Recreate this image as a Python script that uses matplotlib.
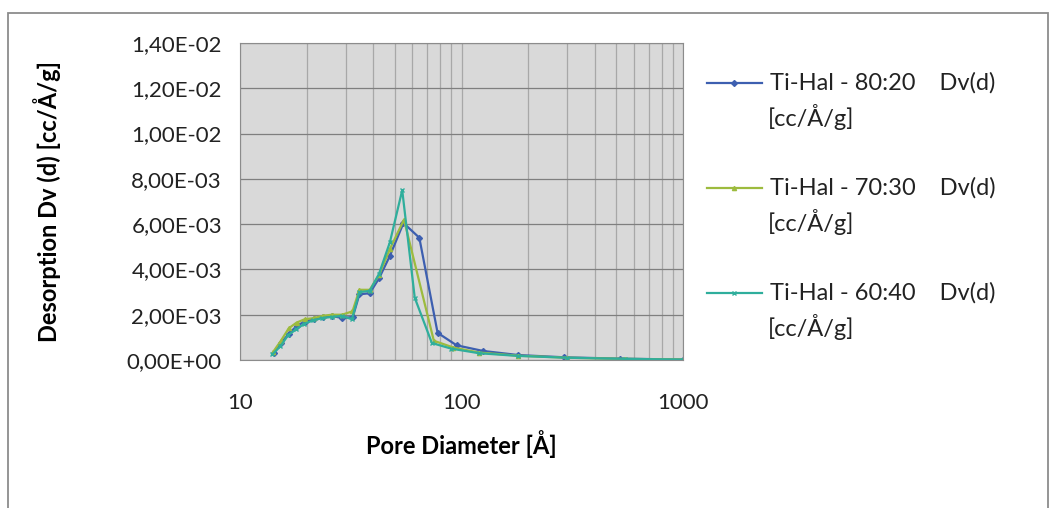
import matplotlib
matplotlib.use("Agg")
import matplotlib.pyplot as plt
from matplotlib.lines import Line2D
from matplotlib.patches import Rectangle
from matplotlib.ticker import FixedLocator, LogLocator, NullFormatter

plt.rcParams['font.family'] = ['Lato', 'DejaVu Sans']

# pore diameter [Å] and Dv(d) [cc/Å/g] for each sample
d_80_20 = [14.2, 15.3, 16.6, 18.0, 19.6, 21.5, 23.6, 26.0, 28.9, 32.3, 34.6, 38.5,
           42.4, 47.5, 54.7, 64.5, 78, 95, 125, 180, 290, 520, 1000]
dv_80_20 = [0.00030, 0.00075, 0.00115, 0.00150, 0.00170, 0.00180, 0.00190, 0.00195,
            0.00185, 0.00190, 0.00290, 0.00295, 0.00360, 0.00460, 0.00605, 0.00540,
            0.00120, 0.00065, 0.00040, 0.00022, 0.00012, 0.00006, 0.00002]

d_70_30 = [14.1, 15.3, 16.6, 18.0, 19.6, 21.5, 23.6, 26.0, 28.9, 32.2, 34.6, 38.5,
           42.4, 47.5, 55.0, 75, 92, 120, 180, 300, 550, 1000]
dv_70_30 = [0.00035, 0.00085, 0.00140, 0.00165, 0.00180, 0.00185, 0.00195, 0.00200,
            0.00200, 0.00215, 0.00310, 0.00310, 0.00375, 0.00490, 0.00620, 0.00085,
            0.00055, 0.00033, 0.00019, 0.00010, 0.00005, 0.00002]

d_60_40 = [14.0, 15.2, 16.5, 17.9, 19.5, 21.4, 23.5, 25.9, 28.8, 32.0, 34.6, 38.5,
           42.4, 47.5, 54.0, 61.5, 73.5, 90, 120, 180, 300, 550, 1000]
dv_60_40 = [0.00025, 0.00060, 0.00110, 0.00135, 0.00160, 0.00175, 0.00185, 0.00190,
            0.00195, 0.00180, 0.00300, 0.00305, 0.00380, 0.00520, 0.00750, 0.00275,
            0.00075, 0.00050, 0.00030, 0.00018, 0.00010, 0.00005, 0.00002]

labels = ["Ti-Hal - 80:20    Dv(d)", "Ti-Hal - 70:30    Dv(d)", "Ti-Hal - 60:40    Dv(d)"]
colors = ["#3d5fb0", "#9dbb3e", "#2fae9c"]
markers = ["D", "^", "x"]

W, H = 1052, 508
fig = plt.figure(figsize=(W / 100, H / 100), dpi=100)
fig.patches.append(Rectangle((8 / W, -0.01), 1040 / W, 1 - 13 / H + 0.01,
                             transform=fig.transFigure, fill=False,
                             edgecolor="#8c8c8c", linewidth=1.3))

ax = fig.add_axes([240 / W, 1 - 360 / H, 443 / W, 317 / H])
ax.set_facecolor("#d9d9d9")

series = [(d_80_20, dv_80_20), (d_70_30, dv_70_30), (d_60_40, dv_60_40)]
for (xs, ys), c, m in zip(series, colors, markers):
    ax.plot(xs, ys, color=c, marker=m, markersize=3, linewidth=1.6)

ax.set_xscale("log")
ax.set_xlim(10, 1000)
ax.set_ylim(0, 0.014)
ax.set_yticks([i * 0.002 for i in range(8)])
ax.set_yticklabels(["0,00E+00", "2,00E-03", "4,00E-03", "6,00E-03",
                    "8,00E-03", "1,00E-02", "1,20E-02", "1,40E-02"])
ax.xaxis.set_major_locator(FixedLocator([10, 100, 1000]))
ax.set_xticklabels(["10", "100", "1000"])
ax.xaxis.set_minor_locator(LogLocator(base=10, subs=range(2, 10)))
ax.xaxis.set_minor_formatter(NullFormatter())

ax.grid(True, which="major", axis="y", color="#7f7f7f", linewidth=0.9)
ax.grid(True, which="both", axis="x", color="#a8a8a8", linewidth=0.9)
ax.set_axisbelow(True)
for s in ax.spines.values():
    s.set_color("#8c8c8c")
ax.tick_params(axis="both", which="both", length=0, labelsize=16, colors="#222222")
ax.tick_params(axis="y", pad=13)
ax.tick_params(axis="x", pad=24)

ax.set_xlabel("Pore Diameter [Å]", fontsize=17, fontweight="bold", labelpad=12)
ax.set_ylabel("Desorption Dv (d) [cc/Å/g]", fontsize=17, fontweight="bold")
ax.yaxis.set_label_coords(-(240 - 61) / 443, 0.5)

# legend drawn at the right
leg_y = [83, 188, 293]
for y, lab, c, m in zip(leg_y, labels, colors, markers):
    yf = 1 - y / H
    fig.add_artist(Line2D([707 / W, 762 / W], [yf, yf], transform=fig.transFigure,
                          color=c, linewidth=1.6))
    fig.add_artist(Line2D([734 / W], [yf], transform=fig.transFigure,
                          color=c, marker=m, markersize=3, linestyle="none"))
    fig.text(770 / W, yf, lab, fontsize=17, va="center", ha="left", color="#222222")
    fig.text(768 / W, 1 - (y + 34) / H, "[cc/Å/g]", fontsize=17, va="center",
             ha="left", color="#222222")

fig.savefig("out.png", dpi=100)
